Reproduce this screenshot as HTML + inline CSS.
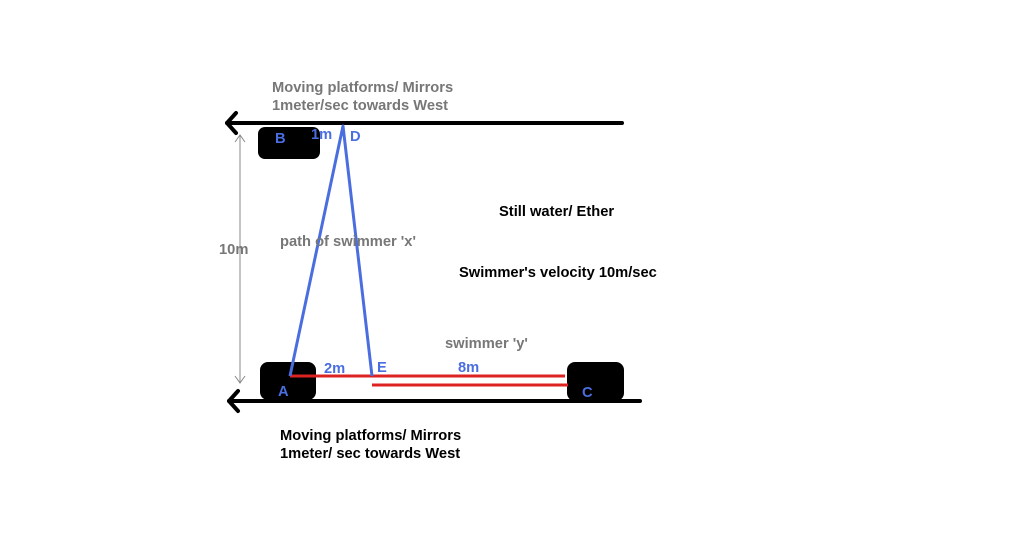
<!DOCTYPE html>
<html><head><style>
body{margin:0;background:#fff;width:1014px;height:549px;overflow:hidden}
svg text{font-family:"Liberation Sans",sans-serif;font-weight:bold;font-size:14.7px}
</style></head><body>
<svg width="1014" height="549" viewBox="0 0 1014 549">
<rect width="1014" height="549" fill="#fff"/>
<line x1="227" y1="123" x2="622" y2="123" stroke="#000" stroke-width="4" stroke-linecap="round"/>
<polyline points="236,113 227,123 236,133" fill="none" stroke="#000" stroke-width="4" stroke-linecap="round" stroke-linejoin="round"/>
<rect x="258" y="127" width="62" height="32" rx="7" fill="#000"/>
<line x1="229" y1="401" x2="640" y2="401" stroke="#000" stroke-width="4" stroke-linecap="round"/>
<polyline points="238,391 229,401 238,411" fill="none" stroke="#000" stroke-width="4" stroke-linecap="round" stroke-linejoin="round"/>
<rect x="260" y="362" width="56" height="38" rx="8" fill="#000"/>
<rect x="567" y="362" width="57" height="39" rx="8" fill="#000"/>
<line x1="240" y1="135" x2="240" y2="383" stroke="#888" stroke-width="1"/>
<polyline points="235,142 240,135 245,142" fill="none" stroke="#888"/>
<polyline points="235,376 240,383 245,376" fill="none" stroke="#888"/>
<line x1="290" y1="376" x2="565" y2="376" stroke="#dd2222" stroke-width="3"/>
<line x1="372" y1="385" x2="568" y2="385" stroke="#dd2222" stroke-width="3"/>
<polyline points="290,376 343,126 372,376" fill="none" stroke="#4a6ee0" stroke-width="3" stroke-linejoin="round"/>
<text x="272" y="92" fill="#777">Moving platforms/ Mirrors</text>
<text x="272" y="110" fill="#777">1meter/sec towards West</text>
<text x="275" y="143" fill="#4a6ee0">B</text>
<text x="311" y="139" fill="#4a6ee0">1m</text>
<text x="350" y="141" fill="#4a6ee0">D</text>
<text x="219" y="254" fill="#777">10m</text>
<text x="280" y="246" fill="#777">path of swimmer 'x'</text>
<text x="499" y="216" fill="#000">Still water/ Ether</text>
<text x="459" y="277" fill="#000">Swimmer's velocity 10m/sec</text>
<text x="445" y="348" fill="#777">swimmer 'y'</text>
<text x="324" y="373" fill="#4a6ee0">2m</text>
<text x="377" y="372" fill="#4a6ee0">E</text>
<text x="458" y="372" fill="#4a6ee0">8m</text>
<text x="278" y="396" fill="#4a6ee0">A</text>
<text x="582" y="397" fill="#4a6ee0">C</text>
<text x="280" y="440" fill="#000">Moving platforms/ Mirrors</text>
<text x="280" y="458" fill="#000">1meter/ sec towards West</text>
</svg>
</body></html>
